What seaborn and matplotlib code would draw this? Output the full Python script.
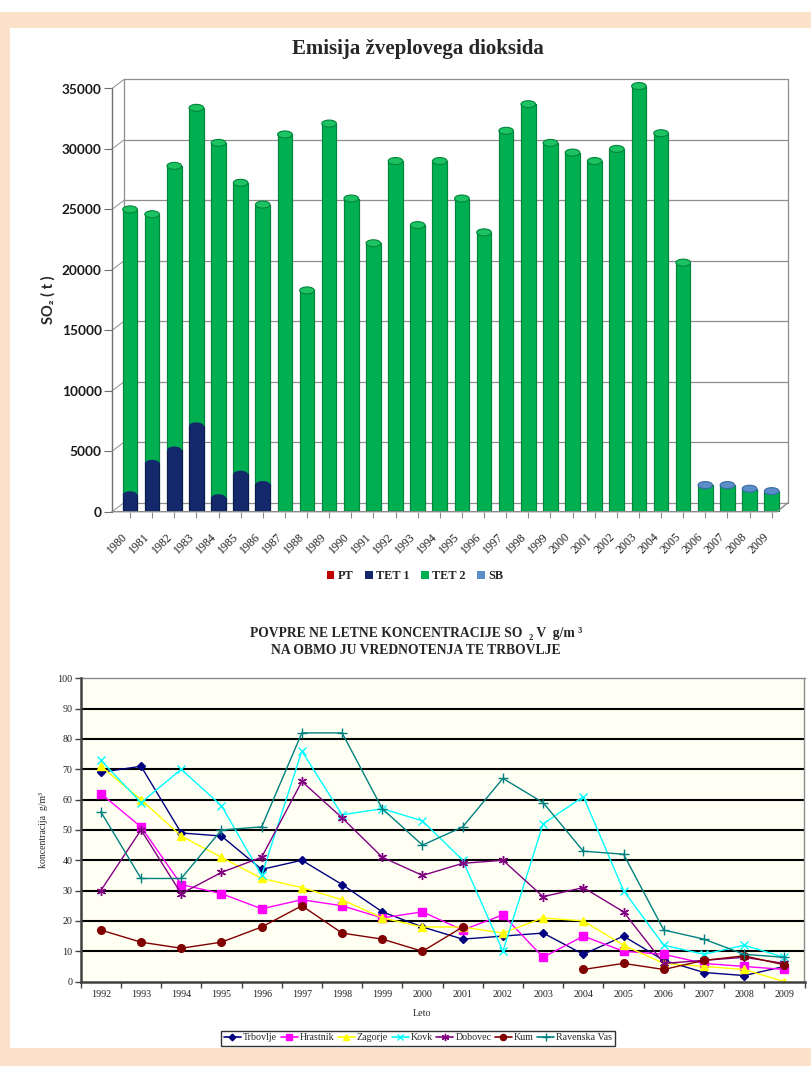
import numpy as np
import pandas as pd
import matplotlib
matplotlib.use("Agg")
import matplotlib.pyplot as plt
import matplotlib.transforms as mtransforms
from matplotlib.patches import Rectangle, Ellipse, Patch
from matplotlib.lines import Line2D
import seaborn as sns

# ---------------------------------------------------------------
# SO2 emissions by source (tonnes per year)
# ---------------------------------------------------------------
em_years = ["1980", "1981", "1982", "1983", "1984", "1985", "1986", "1987",
            "1988", "1989", "1990", "1991", "1992", "1993", "1994", "1995",
            "1996", "1997", "1998", "1999", "2000", "2001", "2002", "2003",
            "2004", "2005", "2006", "2007", "2008", "2009"]
pt = [0, 0, 0, 0, 0, 0, 0, 0, 40, 60, 40, 30, 50, 0, 0, 0,
      0, 0, 0, 0, 0, 0, 0, 0, 0, 0, 0, 0, 0, 0]
tet1 = [1400, 4000, 5100, 7100, 1150, 3100, 2250, 0, 0, 0, 0, 0, 0, 0, 0, 0,
        0, 0, 0, 0, 0, 0, 0, 0, 0, 0, 0, 0, 0, 0]
tet2 = [23600, 20600, 23500, 26300, 29350, 24100, 23150, 31200, 18260, 32040,
        25860, 22170, 28950, 23700, 29000, 25900, 23100, 31500, 33700, 30500,
        29700, 29000, 30000, 35200, 31300, 20600, 2180, 2140, 1820, 1600]
sb = [0, 0, 0, 0, 0, 0, 0, 0, 0, 0, 0, 0, 0, 0, 0, 0,
      0, 0, 0, 0, 0, 0, 0, 0, 0, 0, 20, 60, 80, 100]
em_sources = ["PT", "TET 1", "TET 2", "SB"]

# ---------------------------------------------------------------
# Annual mean SO2 concentrations at the monitoring sites
# ---------------------------------------------------------------
conc_years = [1992, 1993, 1994, 1995, 1996, 1997, 1998, 1999, 2000,
              2001, 2002, 2003, 2004, 2005, 2006, 2007, 2008, 2009]
trbovlje = [69, 71, 49, 48, 37, 40, 32, 23, 18, 14, 15, 16, 9, 15, 7, 3, 2, 5]
hrastnik = [62, 51, 32, 29, 24, 27, 25, 21, 23, 17, 22, 8, 15, 10, 9, 6, 5, 4]
zagorje = [71, 60, 48, 41, 34, 31, 27, 21, 18, 18, 16, 21, 20, 12, 6, 5, 4, 0]
kovk = [73, 59, 70, 58, 35, 76, 55, 57, 53, 40, 10, 52, 61, 30, 12, 9, 12, 8]
dobovec = [30, 50, 29, 36, 41, 66, 54, 41, 35, 39, 40, 28, 31, 23, 6, 7, 8, 6]
kum = [17, 13, 11, 13, 18, 25, 16, 14, 10, 18, np.nan, np.nan, 4, 6, 4, 7, 8.5, 5.5]
ravenska_vas = [56, 34, 34, 50, 51, 82, 82, 57, 45, 51, 67, 59, 43, 42, 17, 14, 9, 8]
sites = ["Trbovlje", "Hrastnik", "Zagorje", "Kovk", "Dobovec", "Kum", "Ravenska Vas"]
site_values = [trbovlje, hrastnik, zagorje, kovk, dobovec, kum, ravenska_vas]

# ---------------------------------------------------------------
# Styling
# ---------------------------------------------------------------
W, H = 811, 1066


def fx(px):
    return px / W


def fy(py):
    return 1 - py / H


sns.set_style("white")
plt.rcParams["font.family"] = ["Liberation Serif", "DejaVu Serif"]

PEACH = "#FDE2CB"
GREEN, GREEN_E, GREEN_CAP = "#00B050", "#00853B", "#1DC262"
NAVY, NAVY_E = "#13296B", "#0B1A48"
RED, RED_E = "#C00000", "#8A0000"
SB_C, SB_E = "#5B8DC8", "#3A6BA5"
FRAME = "#8E8E8E"

site_colors = {"Trbovlje": "#000080", "Hrastnik": "#FF00FF", "Zagorje": "#FFFF00",
               "Kovk": "#00FFFF", "Dobovec": "#800080", "Kum": "#800000",
               "Ravenska Vas": "#008080"}
site_markers = {"Trbovlje": "D", "Hrastnik": "s", "Zagorje": "^", "Kovk": "x",
                "Dobovec": (6, 2, 0), "Kum": "o", "Ravenska Vas": "+"}
site_msize = {"Trbovlje": 4.2, "Hrastnik": 5.5, "Zagorje": 6, "Kovk": 6,
              "Dobovec": 6.5, "Kum": 5.5, "Ravenska Vas": 6.5}

fig = plt.figure(figsize=(W / 100, H / 100), dpi=100)
fig.patch.set_facecolor(PEACH)
fig.add_artist(Rectangle((0, fy(12)), 1, 12 / H, transform=fig.transFigure,
                         facecolor="white", edgecolor="none", zorder=-10))
fig.add_artist(Rectangle((fx(10), fy(1048)), 1 - fx(10), (1048 - 28) / H,
                         transform=fig.transFigure, facecolor="white",
                         edgecolor="none", zorder=-10))

# ===============================================================
# Upper chart: stacked emission columns
# ===============================================================
X0, X1, Y0, Y1 = 112, 788, 77, 511.7
ax1 = fig.add_axes([fx(X0), fy(Y1), (X1 - X0) / W, (Y1 - Y0) / H])
ax1.set_facecolor("none")
units_per_px = 35000 / (Y1 - 88.5)
ax1.set_ylim(0, (Y1 - Y0) * units_per_px)

pt_a, t1_a, t2_a, sb_a = map(np.asarray, (pt, tet1, tet2, sb))
lvl_pt = pt_a
lvl_t1 = lvl_pt + t1_a
lvl_t2 = lvl_t1 + t2_a
lvl_sb = lvl_t2 + sb_a
BAR_W = 0.66

# stacked look: cumulative levels drawn from the top segment down
layers = [(lvl_sb, SB_C, SB_E), (lvl_t2, GREEN, GREEN_E),
          (lvl_t1, NAVY, NAVY_E), (lvl_pt, RED, RED_E)]
for z, (vals, fc, ec) in enumerate(layers):
    sns.barplot(x=em_years, y=vals, color=fc, saturation=1, width=BAR_W,
                errorbar=None, ax=ax1, edgecolor=ec, linewidth=0.8, zorder=2 + z)
for p in ax1.patches:
    if p.get_height() <= 0:
        p.set_visible(False)

# cylinder caps
cap_h = 7 * units_per_px
for i in range(len(em_years)):
    if sb_a[i] > 0:
        fc, ec = SB_C, SB_E
    elif t2_a[i] > 0:
        fc, ec = GREEN_CAP, GREEN_E
    elif t1_a[i] > 0:
        fc, ec = NAVY, NAVY_E
    else:
        fc, ec = RED, RED_E
    ax1.add_patch(Ellipse((i, lvl_sb[i]), BAR_W, cap_h, facecolor=fc,
                          edgecolor=ec, lw=0.8, zorder=8))
    if t1_a[i] > 0 and t2_a[i] > 0:
        ax1.add_patch(Ellipse((i, lvl_t1[i]), BAR_W, cap_h, facecolor=NAVY,
                              edgecolor="none", zorder=7))

# box frame with depth
dy = 9 * units_per_px
bx = (124 - X0) / (X1 - X0)
front_end = (777 - X0) / (X1 - X0)
tr = ax1.get_yaxis_transform()


def frame_line(xs, ys, color=FRAME, lw=0.9, z=1):
    ax1.add_line(Line2D(xs, ys, transform=tr, color=color, lw=lw,
                        zorder=z, clip_on=False))


for v in range(0, 35001, 5000):
    frame_line([bx, 1], [v + dy, v + dy])
    frame_line([0, bx], [v, v + dy], lw=0.7)
frame_line([bx, bx], [dy, 35000 + dy])
frame_line([1, 1], [dy, 35000 + dy])
frame_line([0, 0], [0, 35000], color="#707070", lw=1.0, z=9)
frame_line([0, front_end, 1], [0, 0, dy], color="#8A8A8A", lw=1.0, z=9)

ax1.set_xlim(-0.813, 29.737)
for s in ax1.spines.values():
    s.set_visible(False)
ax1.set_xlabel("")
ax1.set_ylabel("")
yt = list(range(0, 35001, 5000))
ax1.set_yticks(yt)
ax1.set_yticklabels([str(v) for v in yt], fontfamily=["Lato", "DejaVu Sans"],
                    fontweight="bold", fontsize=9.8, color="#1A1A1A")
ax1.tick_params(axis="y", left=True, length=6, width=0.8, color="#707070", pad=1.5)
ax1.set_xticks(range(len(em_years)))
ax1.set_xticklabels(em_years, rotation=45, ha="right", va="top",
                    rotation_mode="anchor", fontsize=8.6, color="#202020")
ax1.tick_params(axis="x", bottom=True, length=4, width=0.8, color="#8A8A8A", pad=10)
shift = mtransforms.ScaledTranslation(-6 / 72, 0, fig.dpi_scale_trans)
for lbl in ax1.get_xticklabels():
    lbl.set_transform(lbl.get_transform() + shift)

fig.text(fx(418), fy(49), "Emisija žveplovega dioksida", ha="center",
         va="center", fontsize=15, fontweight="bold", family="Liberation Serif")
fig.text(fx(48), fy(300), "SO₂ ( t )", rotation=90, ha="center", va="center",
         fontsize=10.5, fontweight="bold", family=["Lato", "DejaVu Sans"])

src_colors = [RED, NAVY, GREEN, SB_C]
fig.legend([Patch(facecolor=c, edgecolor="none") for c in src_colors], em_sources,
           loc="center", bbox_to_anchor=(fx(415), fy(576)), ncol=4,
           frameon=False, prop=dict(family="Liberation Serif", weight="bold", size=8.8),
           handlelength=0.6, handleheight=0.6, handletextpad=0.25,
           columnspacing=1.0)

# ===============================================================
# Lower chart: concentrations by site
# ===============================================================
L0, L1, T0, T1 = 80.7, 804.5, 678.3, 981.6
ax2 = fig.add_axes([fx(L0), fy(T1), (L1 - L0) / W, (T1 - T0) / H])
ax2.set_facecolor("#FFFFF3")

rows = []
for name, vals in zip(sites, site_values):
    seg = 0
    for yr, v in zip(conc_years, vals):
        if np.isnan(v):
            seg += 1
            continue
        rows.append({"Leto": yr, "value": v, "site": name, "seg": seg})
conc = pd.DataFrame(rows)

for name in sites:
    sns.lineplot(data=conc[conc["site"] == name], x="Leto", y="value",
                 units="seg", estimator=None, color=site_colors[name],
                 marker=site_markers[name], markersize=site_msize[name],
                 markeredgecolor=site_colors[name], markeredgewidth=1.0,
                 lw=1.0, ax=ax2, legend=False, zorder=5)

ax2.set_ylim(0, 100)
ax2.set_xlim(conc_years[0] - 0.5, conc_years[-1] + 0.5)
for v in range(10, 100, 10):
    ax2.axhline(v, color="black", lw=1.5, zorder=1)
ax2.spines["top"].set_color("#8C8C8C")
ax2.spines["top"].set_linewidth(1.0)
ax2.spines["right"].set_color("#8C8C8C")
ax2.spines["right"].set_linewidth(1.0)
for side in ("left", "bottom"):
    ax2.spines[side].set_color("#404040")
    ax2.spines[side].set_linewidth(1.8)
    ax2.spines[side].set_zorder(6)

ax2.set_yticks(range(0, 101, 10))
ax2.set_yticklabels([str(v) for v in range(0, 101, 10)], fontsize=7.2, color="#202020")
ax2.set_xticks(conc_years)
ax2.set_xticklabels([str(y) for y in conc_years], fontsize=7.2, color="#202020")
ax2.set_xticks(np.arange(conc_years[0] - 0.5, conc_years[-1] + 0.51, 1), minor=True)
ax2.tick_params(axis="x", which="major", bottom=True, length=0, pad=6)
ax2.tick_params(axis="x", which="minor", bottom=True, length=4, width=1, color="#404040")
ax2.tick_params(axis="y", left=True, length=4, width=1, color="#404040", pad=2)
ax2.set_xlabel("")
ax2.set_ylabel("koncentracija  g/m³", fontsize=7)
ax2.yaxis.set_label_coords((48 - L0) / (L1 - L0), 0.5)

fig.text(fx(416), fy(633), "POVPRE NE LETNE KONCENTRACIJE SO  ₂ V  g/m ³",
         ha="center", va="center", fontsize=9.8, fontweight="bold")
fig.text(fx(416), fy(651), "NA OBMO JU VREDNOTENJA TE TRBOVLJE",
         ha="center", va="center", fontsize=9.8, fontweight="bold")
fig.text(fx(422), fy(1013), "Leto", ha="center", va="center", fontsize=7.2)

handles = [Line2D([], [], color=site_colors[n], marker=site_markers[n],
                  markersize=site_msize[n] * 0.8, markeredgecolor=site_colors[n],
                  lw=1.2) for n in sites]
leg = fig.legend(handles, sites, loc="center", bbox_to_anchor=(fx(418), fy(1038)),
                 ncol=7, frameon=True, fancybox=False, fontsize=7.2,
                 handlelength=1.7, handletextpad=0.2, columnspacing=0.35,
                 borderpad=0.3, borderaxespad=0)
leg.get_frame().set_edgecolor("black")
leg.get_frame().set_linewidth(1.0)

fig.savefig("out.png", dpi=100, facecolor=fig.get_facecolor())
